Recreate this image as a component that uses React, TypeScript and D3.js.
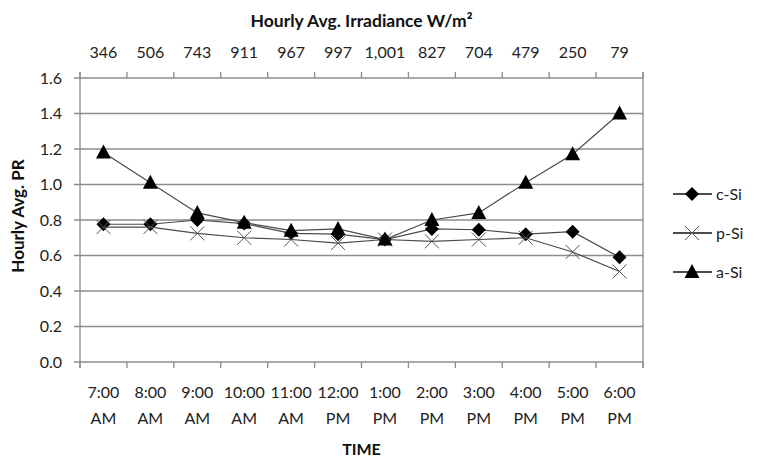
import React from 'react';
import { scaleBand, scaleLinear, line } from 'd3';

const width = 758;
const height = 458;
const margin = { top: 78, right: 115, bottom: 96, left: 80 };
const innerW = width - margin.left - margin.right;
const innerH = height - margin.top - margin.bottom;

const times = ['7:00|AM', '8:00|AM', '9:00|AM', '10:00|AM', '11:00|AM', '12:00|PM', '1:00|PM', '2:00|PM', '3:00|PM', '4:00|PM', '5:00|PM', '6:00|PM'];
const irradiance = ['346', '506', '743', '911', '967', '997', '1,001', '827', '704', '479', '250', '79'];
const cSi = [0.776, 0.776, 0.8, 0.78, 0.725, 0.72, 0.69, 0.75, 0.745, 0.72, 0.734, 0.59];
const pSi = [0.76, 0.76, 0.725, 0.7, 0.69, 0.67, 0.69, 0.68, 0.69, 0.7, 0.62, 0.51];
const aSi = [1.18, 1.01, 0.84, 0.785, 0.74, 0.75, 0.69, 0.8, 0.84, 1.01, 1.17, 1.4];
const yTicks = [0, 0.2, 0.4, 0.6, 0.8, 1.0, 1.2, 1.4, 1.6];

const font = 'Lato, "Open Sans", sans-serif';
const gridColor = '#8c8c8c';
const lineColor = '#4a4a4a';

const x = scaleBand<string>().domain(times).range([0, innerW]);
const y = scaleLinear().domain([0, 1.6]).range([innerH, 0]);

// rotated square and filled triangle, like the spreadsheet markers
const diamond = 'M0,-7L7,0L0,7L-7,0Z';
const triangle = 'M0,-8L7.5,6L-7.5,6Z';

const Marker = ({ kind }: { kind: string }) => {
  if (kind === 'c') return <path d={diamond} fill="#000" />;
  if (kind === 'a') return <path d={triangle} fill="#000" />;
  return <path d="M-7,-7L7,7M-7,7L7,-7" stroke="#555" strokeWidth={1} fill="none" />;
};

const seriesList = [
  { name: 'c-Si', kind: 'c', values: cSi },
  { name: 'p-Si', kind: 'p', values: pSi },
  { name: 'a-Si', kind: 'a', values: aSi },
];

const App = () => {
  const cx = (i: number) => (x(times[i]) as number) + x.bandwidth() / 2;
  const path = line<number>().x((_, i) => cx(i)).y((d) => y(d));
  const tickXs = times.map((t) => x(t) as number).concat([innerW]);
  return (
    <svg width={width} height={height} style={{ position: 'absolute', left: 0, top: 0 }} fontFamily={font}>
      <rect width={width} height={height} fill="#fff" />
      <text x={margin.left + innerW / 2} y={27} textAnchor="middle" fontSize={17.5} fontWeight="bold" fill="#111">
        Hourly Avg. Irradiance W/m²
      </text>
      <g transform={`translate(${margin.left},${margin.top})`}>
        {yTicks.map((t) => (
          <g key={t}>
            <line x1={-6} x2={innerW} y1={y(t)} y2={y(t)} stroke={gridColor} strokeWidth={1.3} />
            <text x={-18} y={y(t)} dy="0.35em" textAnchor="end" fontSize={16} fill="#222">
              {t.toFixed(1)}
            </text>
          </g>
        ))}
        <line x1={0} x2={0} y1={-6} y2={innerH + 6} stroke={gridColor} strokeWidth={1.3} />
        <line x1={innerW} x2={innerW} y1={-6} y2={innerH + 6} stroke={gridColor} strokeWidth={1.3} />
        {tickXs.map((tx, i) => (
          <g key={i}>
            <line x1={tx} x2={tx} y1={-6} y2={0} stroke={gridColor} strokeWidth={1.3} />
            <line x1={tx} x2={tx} y1={innerH} y2={innerH + 6} stroke={gridColor} strokeWidth={1.3} />
          </g>
        ))}
        {irradiance.map((v, i) => (
          <text key={i} x={cx(i)} y={-26} dy="0.35em" textAnchor="middle" fontSize={16} fill="#222">
            {v}
          </text>
        ))}
        {times.map((t, i) => (
          <text key={t} x={cx(i)} textAnchor="middle" fontSize={16} fill="#222">
            <tspan x={cx(i)} y={innerH + 36}>{t.split('|')[0]}</tspan>
            <tspan x={cx(i)} y={innerH + 62}>{t.split('|')[1]}</tspan>
          </text>
        ))}
        {seriesList.map((s) => (
          <g key={s.name}>
            <path d={path(s.values) as string} fill="none" stroke={lineColor} strokeWidth={1.2} />
            {s.values.map((v, i) => (
              <g key={i} transform={`translate(${cx(i)},${y(v)})`}>
                <Marker kind={s.kind} />
              </g>
            ))}
          </g>
        ))}
      </g>
      <text x={margin.left + innerW / 2} y={455} textAnchor="middle" fontSize={16} fontWeight="bold" fill="#111">
        TIME
      </text>
      <text transform={`translate(24,${margin.top + innerH / 2 - 4}) rotate(-90)`} textAnchor="middle" fontSize={17} fontWeight="bold" fill="#111">
        Hourly Avg. PR
      </text>
      {seriesList.map((s, i) => (
        <g key={s.name} transform={`translate(0,${194 + i * 39})`}>
          <line x1={673} x2={712} y1={0} y2={0} stroke="#111" strokeWidth={1.3} />
          <g transform="translate(692,0)">
            <Marker kind={s.kind} />
          </g>
          <text x={716} y={0} dy="0.35em" fontSize={16} fill="#222">
            {s.name}
          </text>
        </g>
      ))}
    </svg>
  );
};

export default App;
